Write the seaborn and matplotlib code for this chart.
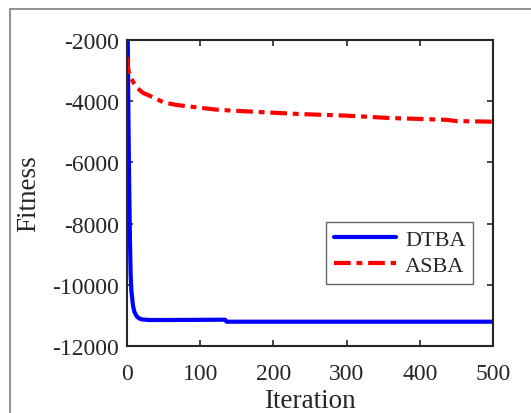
import matplotlib
matplotlib.use("Agg")
import matplotlib.pyplot as plt
import seaborn as sns
import pandas as pd
from matplotlib.patches import Rectangle

# DTBA convergence curve
dtba_iter = [1, 2, 3, 4, 5, 6, 8, 10, 13, 16, 20, 30, 60, 100, 134, 136, 200, 300, 400, 500]
dtba_fit = [-1900, -4700, -6800, -8500, -9700, -10200, -10650, -10880, -11020, -11090,
            -11130, -11150, -11150, -11145, -11140, -11206, -11206, -11206, -11206, -11206]

# ASBA convergence curve
asba_iter = [0, 2, 6, 13, 22, 36, 50, 68, 95, 122, 145, 191, 236, 298, 359, 400, 437, 450, 500]
asba_fit = [-2560, -3000, -3275, -3550, -3730, -3875, -4040, -4125, -4200, -4275,
            -4310, -4365, -4420, -4470, -4550, -4580, -4610, -4650, -4670]

df = pd.concat([
    pd.DataFrame({"Iteration": dtba_iter, "Fitness": dtba_fit, "alg": "DTBA"}),
    pd.DataFrame({"Iteration": asba_iter, "Fitness": asba_fit, "alg": "ASBA"}),
])

sns.set_style("white")
plt.rcParams["font.family"] = ["Liberation Serif", "DejaVu Serif"]
plt.rcParams["axes.unicode_minus"] = False

fig = plt.figure(figsize=(5.31, 4.14), dpi=100)
ax = fig.add_axes([127 / 531, 1 - 347 / 414, 366 / 531, 306 / 414])

sns.lineplot(data=df, x="Iteration", y="Fitness", hue="alg", style="alg",
             palette={"DTBA": "#0000ff", "ASBA": "#ff0000"},
             dashes={"DTBA": "", "ASBA": (4, 1.4, 1.4, 1.4)},
             linewidth=3, ax=ax)

ax.set_xlim(0, 500)
ax.set_ylim(-12000, -2000)
ax.set_xticks([0, 100, 200, 300, 400, 500])
ax.set_yticks([-12000, -10000, -8000, -6000, -4000, -2000])
ax.tick_params(direction="in", length=4, width=1.2, labelsize=17, colors="#262626",
               top=True, right=True, bottom=True, left=True)
ax.tick_params(axis="x", pad=12)
ax.tick_params(axis="y", pad=6)
for s in ax.spines.values():
    s.set_color("#262626")
    s.set_linewidth(1.5)
ax.set_xlabel("Iteration", fontsize=19.5, color="#262626", labelpad=3)
ax.set_ylabel("Fitness", fontsize=19.5, color="#262626", labelpad=8)

leg = ax.legend(loc="lower right", bbox_to_anchor=(0.977, 0.167), fontsize=16,
                frameon=True, fancybox=False, handlelength=2.8, borderpad=0.35,
                labelspacing=0.25, handletextpad=0.4)
leg.get_frame().set_edgecolor("#404040")
leg.get_frame().set_linewidth(1.0)

# partial figure frame like the original screenshot
fig.patches.append(Rectangle((10 / 531, -0.1), 1.2, 1 - 9.5 / 414 + 0.1,
                             transform=fig.transFigure, fill=False,
                             edgecolor="#808080", linewidth=1.2))

fig.savefig("out.png", dpi=100)
